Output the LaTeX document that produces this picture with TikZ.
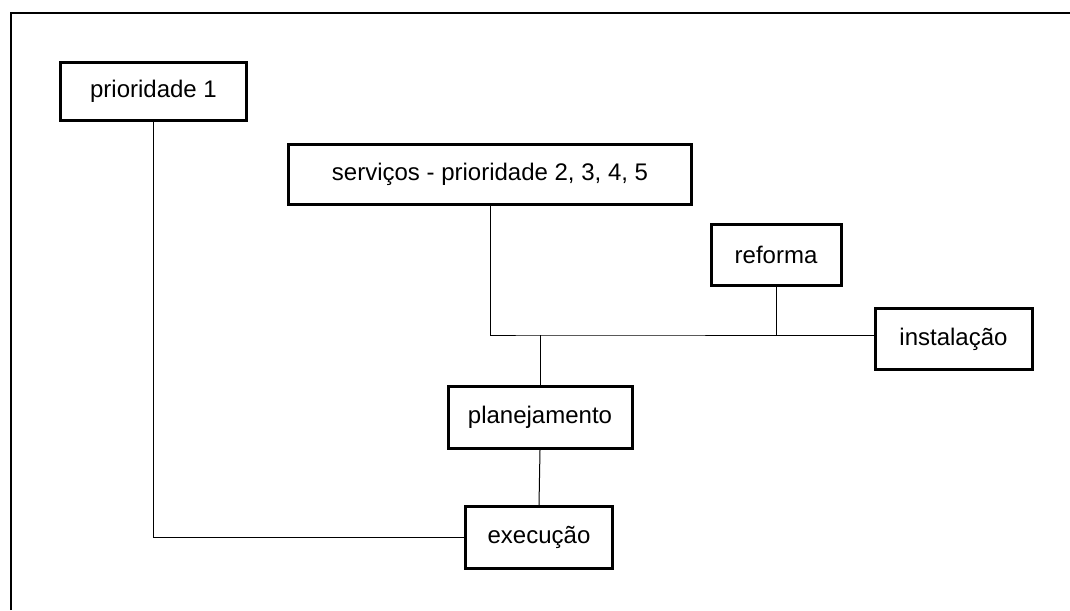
\documentclass[tikz,border=0pt]{standalone}
\usepackage{fontspec}
\setmainfont{Liberation Sans}
\begin{document}
\begin{tikzpicture}[x=1pt,y=-1pt,
  box/.style={draw=black,line width=3pt,inner sep=0pt,
    font=\fontsize{24}{28}\selectfont},
  link/.style={draw=black,line width=1pt}]
\useasboundingbox (0,0) rectangle (1070,610);
% frame edges
\draw[line width=2pt] (11,610) -- (11,13) -- (1070,13);
% boxes
\node[box,minimum width=186pt,minimum height=58pt] (p1) at (153.5,91.5) {prioridade 1};
\node[box,minimum width=403pt,minimum height=60pt] (serv) at (490,174.5) {serviços - prioridade 2, 3, 4, 5};
\node[box,minimum width=130pt,minimum height=61pt] (ref) at (776,255) {reforma};
\node[box,minimum width=157pt,minimum height=61pt] (inst) at (953.5,339) {instalação};
\node[box,minimum width=184pt,minimum height=62pt] (plan) at (540,417.5) {planejamento};
\node[box,minimum width=147pt,minimum height=62pt] (exec) at (539,537.5) {execução};
% bus line
\coordinate (bus) at (540,335);
\draw[link] (serv.south) |- (bus) -- (bus -| inst.west);
\draw[link] (ref.south) -- (ref.south |- bus);
\draw[link] (bus) -- (plan.north);
\draw[link] (plan.south) -- (exec.north);
\draw[link] (p1.south) |- (exec.west);
\end{tikzpicture}
\end{document}
